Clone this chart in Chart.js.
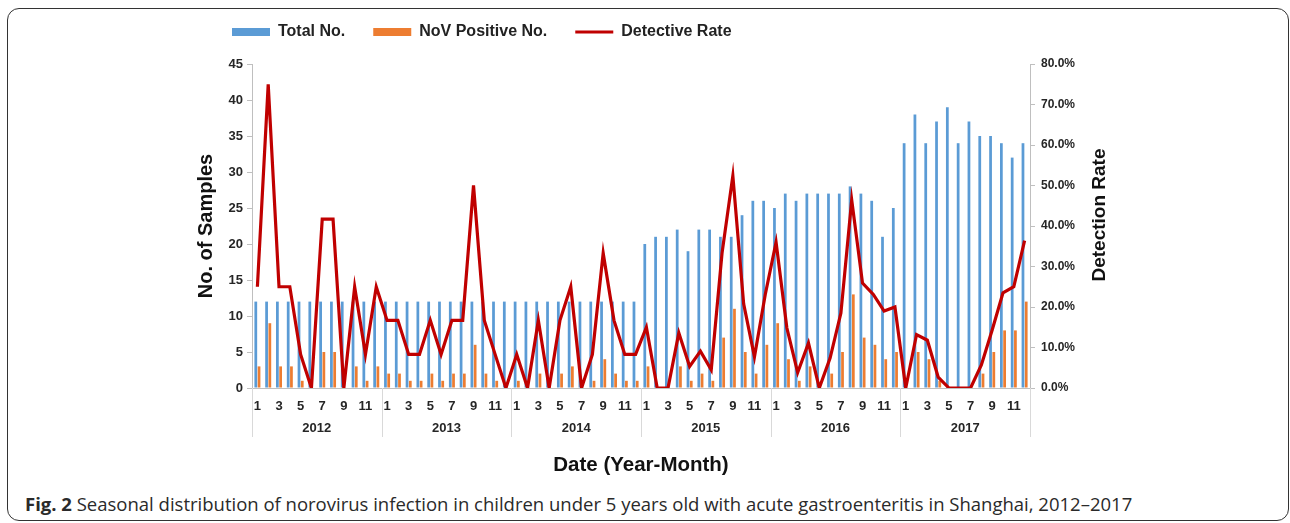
<!DOCTYPE html>
<html>
<head>
<meta charset="utf-8">
<script src="https://cdn.jsdelivr.net/npm/chart.js@4.4.1/dist/chart.umd.min.js"></script>
<style>
  html, body { margin: 0; padding: 0; background: #fff; }
  body { width: 1290px; height: 523px; position: relative; overflow: hidden; }
  .frame {
    position: absolute; left: 7px; top: 8px; width: 1282px; height: 513px;
    border: 1.5px solid #333; border-radius: 12px; box-sizing: border-box;
  }
  .chart-wrap { position: absolute; left: 0; top: 0; width: 1290px; height: 490px; }
  .caption {
    position: absolute; left: 25px; top: 491px;
    font-family: "Open Sans", sans-serif; font-size: 18.5px; color: #2a2a2a; white-space: nowrap;
  }
  .caption b { font-weight: bold; }
</style>
</head>
<body>
<div class="frame"></div>
<div class="chart-wrap"><canvas id="novChart" width="1290" height="490"></canvas></div>
<div class="caption"><b>Fig. 2</b> Seasonal distribution of norovirus infection in children under 5 years old with acute gastroenteritis in Shanghai, 2012–2017</div>
<script>
// categories
const years = ['2012', '2013', '2014', '2015', '2016', '2017'];
const months = ['1', '2', '3', '4', '5', '6', '7', '8', '9', '10', '11', '12'];

// series (month by month)
const totalNo = [
    12, 12, 12, 12, 12, 12, 12, 12, 12, 12, 12, 12,
    12, 12, 12, 12, 12, 12, 12, 12, 12, 12, 12, 12,
    12, 12, 12, 12, 12, 12, 12, 12, 12, 12, 12, 12,
    20, 21, 21, 22, 19, 22, 22, 21, 21, 24, 26, 26,
    25, 27, 26, 27, 27, 27, 27, 28, 27, 26, 21, 25,
    34, 38, 34, 37, 39, 34, 37, 35, 35, 34, 32, 34
];
const positiveNo = [
    3, 9, 3, 3, 1, 0, 5, 5, 0, 3, 1, 3,
    2, 2, 1, 1, 2, 1, 2, 2, 6, 2, 1, 0,
    1, 0, 2, 0, 2, 3, 0, 1, 4, 2, 1, 1,
    3, 0, 0, 3, 1, 2, 1, 7, 11, 5, 2, 6,
    9, 4, 1, 3, 0, 2, 5, 13, 7, 6, 4, 5,
    0, 5, 4, 1, 0, 0, 0, 2, 5, 8, 8, 12
];
const detectiveRate = [
    25, 75, 25, 25, 8.3, 0, 41.7, 41.7, 0, 25, 8.3, 25,
    16.7, 16.7, 8.3, 8.3, 16.7, 8.3, 16.7, 16.7, 50, 16.7, 8.3, 0,
    8.3, 0, 16.7, 0, 16.7, 25, 0, 8.3, 33.3, 16.7, 8.3, 8.3,
    15, 0, 0, 13.6, 5.3, 9.1, 4.5, 33.3, 52.4, 20.8, 7.7, 23.1,
    36, 14.8, 3.8, 11.1, 0, 7.4, 18.5, 46.4, 25.9, 23.1, 19, 20,
    0, 13.2, 11.8, 2.7, 0, 0, 0, 5.7, 14.3, 23.5, 25, 36.4
];

const labels = [];
years.forEach(y => months.forEach(m => labels.push(y + '-' + m)));

const tickColor = '#262626';
const axisColor = '#BFBFBF';
const fontFamily = '"Liberation Sans", Arial, sans-serif';

// legend sits left of centre in the original
const legendPlace = {
    id: 'legendPlace',
    afterLayout(chart) {
        const lg = chart.legend;
        const h = lg.bottom - lg.top;
        lg.left = 204;
        lg.top = -4;
        lg.bottom = lg.top + h;
    }
};

// year separators under the axis + right title reading bottom-to-top
const extras = {
    id: 'extras',
    afterDraw(chart) {
        const x = chart.scales.x;
        const y1 = chart.scales.y1;
        const ctx = chart.ctx;
        const step = (x.right - x.left) / labels.length;
        ctx.save();
        ctx.strokeStyle = '#D9D9D9';
        ctx.lineWidth = 1;
        for (let i = 0; i <= years.length; i++) {
            const px = Math.round(x.left + i * 12 * step) + 0.5;
            ctx.beginPath();
            ctx.moveTo(px, x.top);
            ctx.lineTo(px, x.top + 49);
            ctx.stroke();
        }
        ctx.translate(y1.right - 15, (y1.top + y1.bottom) / 2 - 11);
        ctx.rotate(-Math.PI / 2);
        ctx.fillStyle = '#111';
        ctx.font = 'bold 19px ' + fontFamily;
        ctx.textAlign = 'center';
        ctx.textBaseline = 'middle';
        ctx.fillText('Detection Rate', 0, 0);
        ctx.restore();
    }
};

const ctx = document.getElementById('novChart').getContext('2d');
new Chart(ctx, {
    type: 'bar',
    data: {
        labels: labels,
        datasets: [{
            label: 'Total No.',
            data: totalNo,
            backgroundColor: '#5B9BD5',
            pointStyle: 'rect',
            categoryPercentage: 0.6,
            barPercentage: 0.85,
            yAxisID: 'y',
            order: 2
        }, {
            label: 'NoV Positive No.',
            data: positiveNo,
            backgroundColor: '#ED7D31',
            pointStyle: 'rect',
            categoryPercentage: 0.6,
            barPercentage: 0.85,
            yAxisID: 'y',
            order: 2
        }, {
            type: 'line',
            label: 'Detective Rate',
            data: detectiveRate,
            borderColor: '#C00000',
            backgroundColor: '#C00000',
            borderWidth: 3.2,
            pointRadius: 0,
            pointStyle: 'line',
            tension: 0,
            yAxisID: 'y1',
            order: 1
        }]
    },
    options: {
        responsive: false,
        animation: false,
        layout: { padding: { left: 190, right: 175, top: 10, bottom: 8 } },
        plugins: {
            tooltip: { enabled: false },
            legend: {
                position: 'top',
                align: 'start',
                labels: {
                    usePointStyle: true,
                    pointStyleWidth: 38,
                    boxHeight: 8,
                    padding: 28,
                    color: '#222',
                    font: { family: fontFamily, size: 16, weight: 'bold' },
                    sort: (a, b) => a.datasetIndex - b.datasetIndex
                }
            }
        },
        scales: {
            x: {
                position: 'bottom',
                grid: { display: false },
                border: { display: true, color: axisColor },
                ticks: {
                    autoSkip: false,
                    maxRotation: 0,
                    padding: 3,
                    color: tickColor,
                    font: { family: fontFamily, size: 13, weight: 'bold' },
                    callback: function (val, i) {
                        const m = i % 12 + 1;
                        return m % 2 === 1 ? String(m) : '';
                    }
                },
                afterFit: s => { s.height = 24; }
            },
            year: {
                type: 'category',
                position: 'bottom',
                labels: years,
                offset: true,
                grid: { display: false },
                border: { display: false },
                ticks: {
                    padding: 1,
                    color: tickColor,
                    font: { family: fontFamily, size: 13, weight: 'bold' }
                },
                title: {
                    display: true,
                    text: 'Date (Year-Month)',
                    color: '#111',
                    padding: { top: 0, bottom: 4 },
                    font: { family: fontFamily, size: 20.5, weight: 'bold' }
                },
                afterFit: s => { s.height = 70; }
            },
            y: {
                position: 'left',
                min: 0,
                max: 45,
                ticks: {
                    stepSize: 5,
                    padding: 4,
                    color: tickColor,
                    font: { family: fontFamily, size: 13, weight: 'bold' }
                },
                grid: { drawOnChartArea: false, color: axisColor, tickLength: 5 },
                border: { color: axisColor },
                title: {
                    display: true,
                    text: 'No. of Samples',
                    color: '#111',
                    padding: { top: 4, bottom: 0 },
                    font: { family: fontFamily, size: 20, weight: 'bold' }
                },
                afterFit: s => { s.width = 62; }
            },
            y1: {
                position: 'right',
                min: 0,
                max: 80,
                ticks: {
                    stepSize: 10,
                    padding: 6,
                    color: tickColor,
                    font: { family: fontFamily, size: 12, weight: 'bold' },
                    callback: v => v.toFixed(1) + '%'
                },
                grid: { drawOnChartArea: false, color: axisColor, tickLength: 5 },
                border: { color: axisColor },
                afterFit: s => { s.width = 85; }
            }
        }
    },
    plugins: [legendPlace, extras]
});
</script>
</body>
</html>
